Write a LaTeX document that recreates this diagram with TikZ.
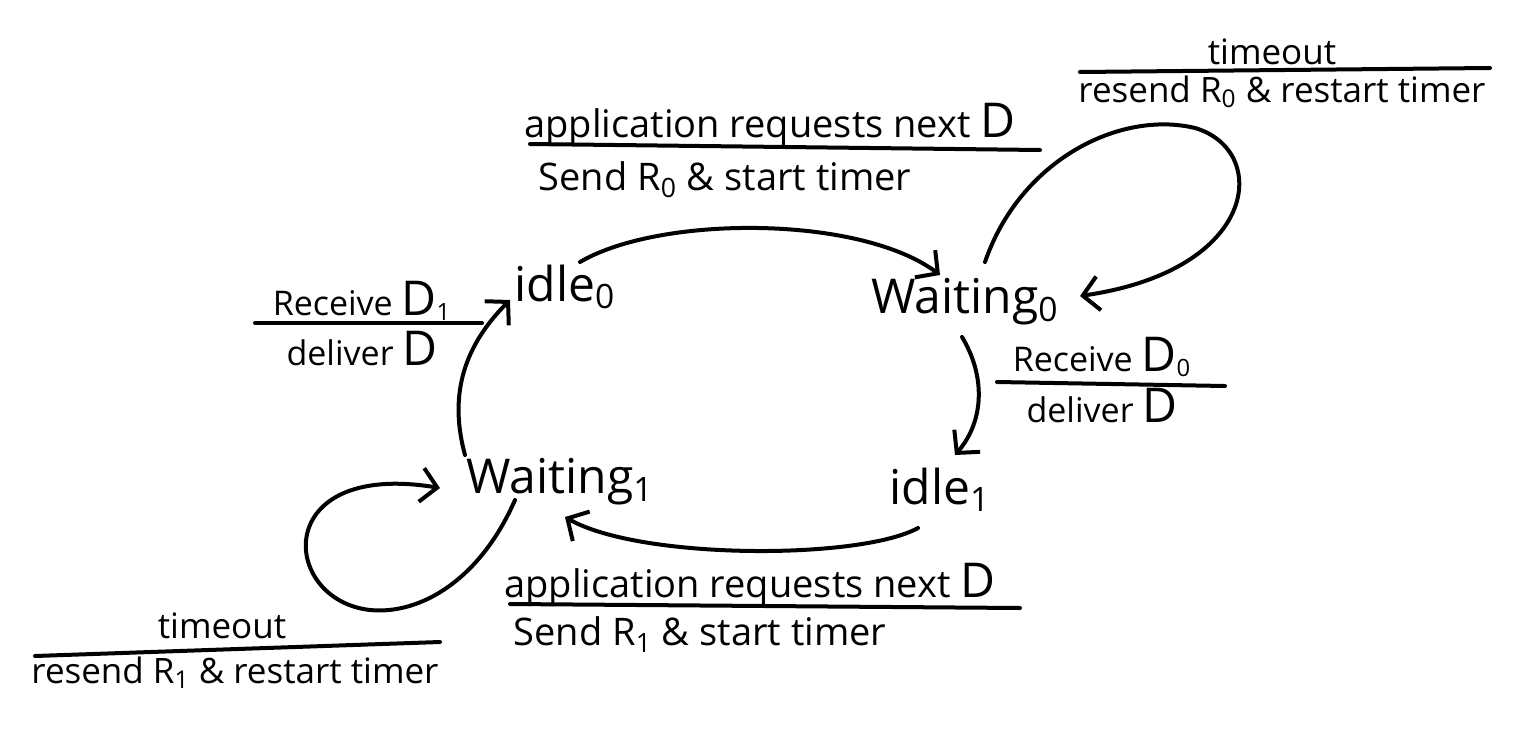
\documentclass[tikz,border=0pt]{standalone}
\usepackage{fontspec}
\setmainfont{Open Sans}
\usetikzlibrary{arrows.meta}
\newcommand\BigD{{\fontsize{24}{24}\selectfont D}}
\begin{document}
\begin{tikzpicture}[x=0.5pt,y=-0.5pt,
  state/.style={inner sep=0pt,font=\fontsize{24}{28}\selectfont},
  lbl/.style={inner sep=0pt,anchor=base,font=\fontsize{19}{22}\selectfont},
  tlbl/.style={inner sep=0pt,anchor=base,font=\fontsize{17.5}{21}\selectfont},
  slbl/.style={inner sep=0pt,anchor=base,font=\fontsize{17}{20}\selectfont},
  conn/.style={line width=2pt,line cap=round,line join=round,-{Straight Barb[length=8pt,width=17pt,line width=2pt]}},
  bar/.style={line width=2pt,line cap=round}]
\useasboundingbox (0,0) rectangle (1525,728);
% states
\node[state] (i0) at (565,287) {idle\textsubscript{0}};
\node[state] (w0) at (965,302) {Waiting\textsubscript{0}};
\node[state] (i1) at (940,490) {idle\textsubscript{1}};
\node[state] (w1) at (560,482) {Waiting\textsubscript{1}};
% connectors
\draw[conn] ([shift={(15,-25)}]i0.center) .. controls (660,215) and (860,215) .. ([shift={(-25,-27)}]w0.center);
\draw[conn] ([shift={(20,-40)}]w0.center) .. controls (1020,160) and (1120,110) .. (1195,128) .. controls (1270,150) and (1260,270) .. ([shift={(115,-6)}]w0.center);
\draw[conn] ([shift={(-3,35)}]w0.center) .. controls (985,375) and (985,420) .. ([shift={(15,-35)}]i1.center);
\draw[conn] ([shift={(-22,38)}]i1.center) .. controls (860,560) and (640,560) .. ([shift={(5,35)}]w1.center);
\draw[conn] ([shift={(-45,18)}]w1.center) .. controls (480,580) and (420,615) .. (370,610) .. controls (280,600) and (270,460) .. ([shift={(-120,6)}]w1.center);
\draw[conn] ([shift={(-95,-27)}]w1.center) .. controls (450,400) and (460,350) .. ([shift={(-55,13)}]i0.center);
% labels
\node[lbl] (l1t) at (770,137) {application requests next \BigD};
\node[lbl] (l1b) at (725,190) {Send R\textsubscript{0} \& start timer};
\draw[bar] (530,144) -- (1040,150);
\node[tlbl] (l2t) at (1272,64) {timeout};
\node[tlbl] (l2b) at (1282,102) {resend R\textsubscript{0} \& restart timer};
\draw[bar] (1080,72) -- (1490,68);
\node[slbl] (l3t) at (362,315) {Receive \BigD\textsubscript{1}};
\node[slbl] (l3b) at (362,365) {deliver \BigD};
\draw[bar] (255,323) -- (482,323);
\node[slbl] (l4t) at (1102,371) {Receive \BigD\textsubscript{0}};
\node[slbl] (l4b) at (1102,422) {deliver \BigD};
\draw[bar] (997,382) -- (1225,386);
\node[lbl] (l5t) at (750,597) {application requests next \BigD};
\node[lbl] (l5b) at (700,645) {Send R\textsubscript{1} \& start timer};
\draw[bar] (510,604) -- (1020,608);
\node[tlbl] (l6t) at (222,638) {timeout};
\node[tlbl] (l6b) at (235,683) {resend R\textsubscript{1} \& restart timer};
\draw[bar] (35,656) -- (440,642);
\end{tikzpicture}
\end{document}
